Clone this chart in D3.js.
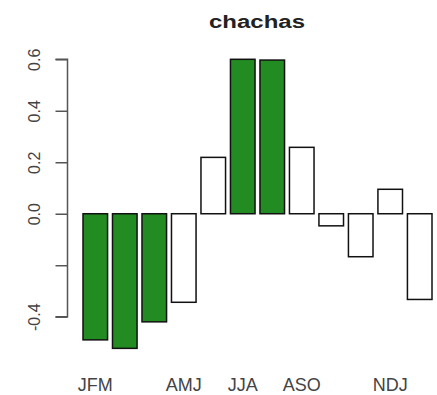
<!DOCTYPE html>
<html>
<head>
<meta charset="utf-8">
<script src="https://cdn.jsdelivr.net/npm/d3@7"></script>
<style>
  html, body { margin: 0; padding: 0; background: #fff; }
  svg { display: block; }
  text { font-family: "Liberation Sans", Arial, Helvetica, sans-serif; }
</style>
</head>
<body>
<script>
// ---- data ----
const seasons = ["JFM","FMA","MAM","AMJ","MJJ","JJA","JAS","ASO","SON","OND","NDJ","DJF"];
const values  = [-0.49, -0.523, -0.42, -0.344, 0.219, 0.60, 0.597, 0.258, -0.047, -0.167, 0.095, -0.333];
const significant = [true, true, true, false, false, true, true, false, false, false, false, false];
const shownLabels = ["JFM","AMJ","JJA","ASO","NDJ"];
const yTicks = [-0.4, -0.2, 0.0, 0.2, 0.4, 0.6];
const yTickLabels = ["-0.4", "", "0.0", "0.2", "0.4", "0.6"];
const title = "chachas";

// ---- layout ----
const W = 437, H = 395;
const svg = d3.select("body").append("svg").attr("width", W).attr("height", H);

const y = d3.scaleLinear().domain([-0.4, 0.6]).range([316.7, 59.3]);
const x = d3.scaleBand().domain(d3.range(values.length)).range([83, 432]).paddingInner(0.2 / 1.2).paddingOuter(0);

// bars
svg.append("g").selectAll("rect").data(values).join("rect")
  .attr("x", (d, i) => x(i))
  .attr("width", x.bandwidth())
  .attr("y", d => y(Math.max(0, d)))
  .attr("height", d => Math.abs(y(d) - y(0)))
  .attr("fill", (d, i) => significant[i] ? "#228B22" : "#ffffff")
  .attr("stroke", "#111")
  .attr("stroke-width", 1.5);

// y axis
const yAxis = d3.axisLeft(y).tickValues(yTicks).tickSize(12).tickFormat((d, i) => yTickLabels[i]);
const gy = svg.append("g").attr("transform", "translate(67.5,0)").call(yAxis);
gy.select(".domain").attr("stroke", "#555").attr("stroke-width", 1.5).attr("d", `M-12,${y(-0.4)}H0V${y(0.6)}H-12`);
gy.selectAll(".tick line").attr("stroke", "#555").attr("stroke-width", 1.5);
gy.selectAll(".tick text")
  .attr("fill", "#444")
  .attr("font-size", 16)
  .attr("text-anchor", "middle")
  .attr("x", null).attr("dy", null)
  .attr("transform", "translate(-33,0) rotate(-90)")
  .attr("dominant-baseline", "central");

// x labels (only those R could fit)
svg.append("g").selectAll("text").data(seasons).join("text")
  .filter(d => shownLabels.includes(d))
  .attr("x", (d, i) => x(seasons.indexOf(d)) + x.bandwidth() / 2)
  .attr("y", 391)
  .attr("text-anchor", "middle")
  .attr("font-size", 18)
  .attr("fill", "#444")
  .text(d => d);

// title
svg.append("text")
  .attr("x", 257).attr("y", 28)
  .attr("text-anchor", "middle")
  .attr("font-size", 18)
  .attr("font-weight", "bold")
  .attr("fill", "#222")
  .attr("textLength", 96)
  .attr("lengthAdjust", "spacingAndGlyphs")
  .text(title);
</script>
</body>
</html>
